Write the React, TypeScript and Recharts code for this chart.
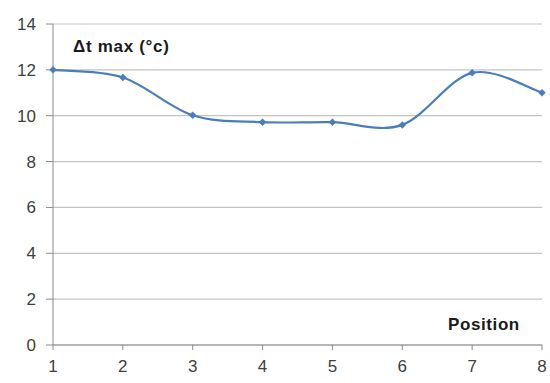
import React from "react";
import { LineChart, Line, XAxis, YAxis, CartesianGrid } from "recharts";

const positions = [1, 2, 3, 4, 5, 6, 7, 8];
const deltaTMax = [12.0, 11.67, 10.02, 9.72, 9.72, 9.6, 11.87, 11.0];
const yTicks = [0, 2, 4, 6, 8, 10, 12, 14];

const data = positions.map((p, i) => ({ x: p, y: deltaTMax[i] }));

// Excel-like smoothed line (Catmull-Rom Bezier)
function excelCurve(context: any) {
  let pts: [number, number][] = [];
  return {
    areaStart() {},
    areaEnd() {},
    lineStart() {
      pts = [];
    },
    point(x: number, y: number) {
      pts.push([+x, +y]);
    },
    lineEnd() {
      const n = pts.length;
      if (n === 0) return;
      context.moveTo(pts[0][0], pts[0][1]);
      for (let i = 0; i < n - 1; i++) {
        const p0 = pts[i - 1] || pts[i];
        const p1 = pts[i];
        const p2 = pts[i + 1];
        const p3 = pts[i + 2] || pts[i + 1];
        const c1x = p1[0] + (p2[0] - p0[0]) / 6;
        const c1y = p1[1] + (p2[1] - p0[1]) / 6;
        const c2x = p2[0] - (p3[0] - p1[0]) / 6;
        const c2y = p2[1] - (p3[1] - p1[1]) / 6;
        context.bezierCurveTo(c1x, c1y, c2x, c2y, p2[0], p2[1]);
      }
    },
  };
}

const Diamond = (props: any) => {
  const { cx, cy } = props;
  if (cx == null || cy == null) return null;
  const r = 3.5;
  return (
    <path
      d={`M${cx},${cy - r}L${cx + r},${cy}L${cx},${cy + r}L${cx - r},${cy}Z`}
      fill="#4a7ebb"
      stroke="#4a7ebb"
      strokeWidth={0.5}
    />
  );
};

export default function App() {
  return (
    <div style={{ position: "absolute", left: 0, top: 0, width: 550, height: 383, background: "#fff" }}>
      <LineChart
        width={550}
        height={383}
        data={data}
        margin={{ top: 24, right: 8, left: 0, bottom: 0 }}
        style={{ fontFamily: "'Liberation Sans', Arial, sans-serif" }}
      >
        <CartesianGrid vertical={false} stroke="#c4c4c4" strokeWidth={1.2} />
        <XAxis
          dataKey="x"
          type="number"
          domain={[1, 8]}
          ticks={positions}
          height={38}
          stroke="#8a8a8a"
          tickSize={5}
          tickMargin={10}
          tick={{ fill: "#404040", fontSize: 17 }}
          interval={0}
        />
        <YAxis
          type="number"
          domain={[0, 14]}
          ticks={yTicks}
          width={53}
          stroke="#8a8a8a"
          tickSize={7}
          tickMargin={10}
          tick={{ fill: "#404040", fontSize: 17 }}
          interval={0}
        />
        <Line
          dataKey="y"
          type={excelCurve as any}
          stroke="#4a7ebb"
          strokeWidth={2.2}
          dot={<Diamond />}
          activeDot={false}
          isAnimationActive={false}
        />
        <text x={73} y={52} fontSize={17} fontWeight="bold" fill="#1a1a1a" letterSpacing={0.7}>
          Δt max (°c)
        </text>
        <text x={448} y={330} fontSize={17} fontWeight="bold" fill="#1a1a1a" letterSpacing={0.6}>
          Position
        </text>
      </LineChart>
    </div>
  );
}
